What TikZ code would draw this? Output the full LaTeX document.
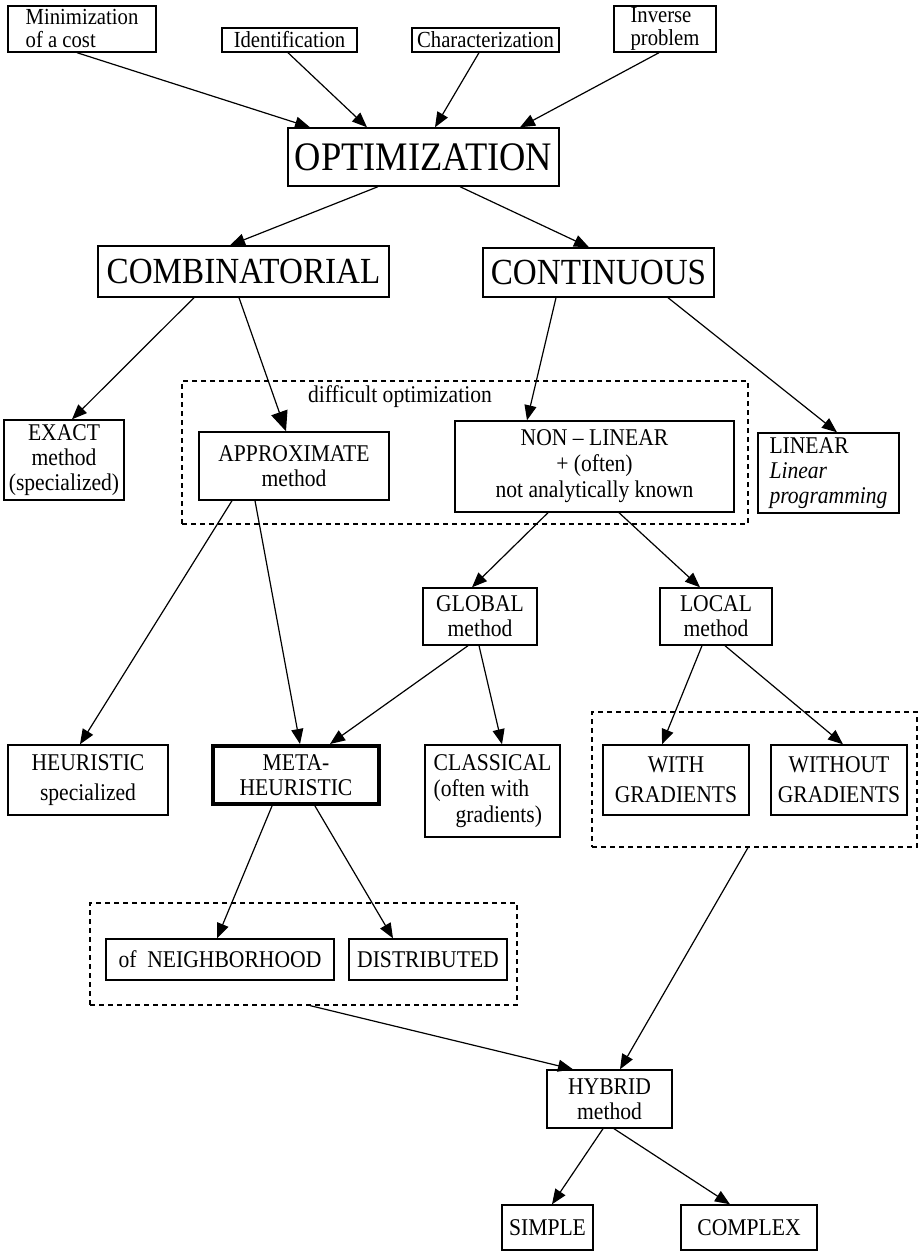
\documentclass[tikz,border=0pt]{standalone}
\usepackage{fontspec}
\setmainfont{Liberation Serif}[FakeStretch=0.9]
\usetikzlibrary{arrows.meta}

\begin{document}
\begin{tikzpicture}[
    x=1pt, y=-1pt,
    >={Triangle[length=15pt, width=12pt]},
    box/.style={draw, line width=1.4pt, inner sep=0pt, align=center, font=\fontsize{24}{25}\selectfont},
    topbox/.style={box, font=\fontsize{23}{23}\selectfont},
    bigbox/.style={box, font=\fontsize{40.5}{40}\selectfont},
    midbox/.style={box, font=\fontsize{36.8}{36}\selectfont},
    groupbox/.style={draw, line width=1.2pt, dash pattern=on 5pt off 4pt, inner sep=0pt},
    link/.style={->, line width=1.2pt}
]

    \useasboundingbox (0,0) rectangle (921,1252);

    % dashed groups
    \node[groupbox, minimum width=566pt, minimum height=143pt] (diffopt) at (465,452.5) {};
    \node[groupbox, minimum width=325pt, minimum height=135pt] (gradgrp) at (754.5,779.5) {};
    \node[groupbox, minimum width=427pt, minimum height=102pt] (metagrp) at (303.5,954) {};
    \node[font=\fontsize{24}{25}\selectfont] (difflabel) at (400,397) {difficult optimization};

    \node[topbox, align=left, minimum width=148pt, minimum height=46pt] (mincost) at (82,29) {Minimization\\of a cost};
    \node[topbox, minimum width=135pt, minimum height=24pt] (ident) at (289.5,40) {Identification};
    \node[topbox, minimum width=147pt, minimum height=24pt] (charac) at (485.5,40) {Characterization};
    \node[topbox, align=left, minimum width=102pt, minimum height=46pt] (inverse) at (665,29) {Inverse\\problem};

    \node[bigbox, minimum width=271pt, minimum height=58pt] (optim) at (423.5,157) {OPTIMIZATION};
    \node[midbox, minimum width=291pt, minimum height=51pt] (combin) at (243.5,271.5) {COMBINATORIAL};
    \node[midbox, minimum width=231pt, minimum height=49pt] (contin) at (598.5,272.5) {CONTINUOUS};

    \node[box, minimum width=120pt, minimum height=80pt] (exact) at (64,460) {EXACT\\method\\(specialized)};
    \node[box, minimum width=190pt, minimum height=68pt] (approx) at (294,466) {APPROXIMATE\\method};
    \node[box, font=\fontsize{24}{26}\selectfont, minimum width=279pt, minimum height=91pt] (nonlin) at (594.5,466.5) {NON \textendash{} LINEAR\\+ (often)\\not analytically known};
    \node[box, align=left, minimum width=141pt, minimum height=80pt] (linear) at (828.5,473) {LINEAR\\\textit{Linear}\\\textit{programming}};

    \node[box, minimum width=114pt, minimum height=57pt] (global) at (480,616.5) {GLOBAL\\method};
    \node[box, minimum width=112pt, minimum height=57pt] (local) at (716,616.5) {LOCAL\\method};

    \node[box, font=\fontsize{24}{30}\selectfont, minimum width=160pt, minimum height=70pt] (heur) at (88,780) {HEURISTIC\\specialized};
    \node[box, line width=4pt, minimum width=166pt, minimum height=58pt] (meta) at (296,775) {META-\\HEURISTIC};
    \node[box, align=left, font=\fontsize{24}{26}\selectfont, minimum width=135pt, minimum height=92pt] (classic) at (492.5,791) {CLASSICAL\\(often with\\\hspace*{22pt}gradients)};
    \node[box, font=\fontsize{24}{30}\selectfont, minimum width=146pt, minimum height=70pt] (withg) at (676,780) {WITH\\GRADIENTS};
    \node[box, font=\fontsize{24}{30}\selectfont, minimum width=136pt, minimum height=70pt] (without) at (839,780) {WITHOUT\\GRADIENTS};

    \node[box, minimum width=228pt, minimum height=41pt] (neigh) at (220,959.5) {of\ \ NEIGHBORHOOD};
    \node[box, minimum width=158pt, minimum height=41pt] (distrib) at (428,959.5) {DISTRIBUTED};

    \node[box, minimum width=125pt, minimum height=58pt] (hybrid) at (609.5,1099) {HYBRID\\method};
    \node[box, minimum width=91pt, minimum height=45pt] (simple) at (547.5,1227.5) {SIMPLE};
    \node[box, minimum width=136pt, minimum height=45pt] (complex) at (749,1227.5) {COMPLEX};

    % connectors
    \draw[link] ([xshift=-5pt]mincost.south) -- ([xshift=-113.5pt]optim.north);
    \draw[link] ([xshift=-1.5pt]ident.south) -- ([xshift=-56.5pt]optim.north);
    \draw[link] ([xshift=-6.5pt]charac.south) -- ([xshift=11.5pt]optim.north);
    \draw[link] ([xshift=-6pt]inverse.south) -- ([xshift=96.5pt]optim.north);

    \draw[link] ([xshift=-45.5pt]optim.south) -- ([xshift=-13.5pt]combin.north);
    \draw[link] ([xshift=36.5pt]optim.south) -- ([xshift=-9.5pt]contin.north);

    \draw[link] ([xshift=-49.5pt]combin.south) -- ([xshift=8pt]exact.north);
    \draw[link, -{Triangle[length=20pt, width=17pt]}] ([xshift=-4.5pt]combin.south) -- ([xshift=-8pt]approx.north);
    \draw[link] ([xshift=-42.5pt]contin.south) -- ([xshift=-67.5pt]nonlin.north);
    \draw[link] ([xshift=69.5pt]contin.south) -- ([xshift=8.5pt]linear.north);

    \draw[link] ([xshift=-62pt]approx.south) -- ([xshift=-8pt]heur.north);
    \draw[link] ([xshift=-39pt]approx.south) -- ([xshift=4pt]meta.north);
    \draw[link] ([xshift=-46.5pt]nonlin.south) -- ([xshift=-8pt]global.north);
    \draw[link] ([xshift=24.5pt]nonlin.south) -- ([xshift=-16pt]local.north);

    \draw[link] ([xshift=-12pt]global.south) -- ([xshift=34pt]meta.north);
    \draw[link] ([xshift=-1pt]global.south) -- ([xshift=9.5pt]classic.north);
    \draw[link] ([xshift=-14pt]local.south) -- ([xshift=-14pt]withg.north);
    \draw[link] ([xshift=9pt]local.south) -- ([xshift=4pt]without.north);

    \draw[link] ([xshift=-24pt]meta.south) -- ([xshift=-3pt]neigh.north);
    \draw[link] ([xshift=19pt]meta.south) -- ([xshift=-35pt]distrib.north);

    \draw[link] ([xshift=6.5pt]metagrp.south) -- ([xshift=-36.5pt]hybrid.north);
    \draw[link] ([xshift=-6.5pt]gradgrp.south) -- ([xshift=10.5pt]hybrid.north);
    \draw[link] ([xshift=-6.5pt]hybrid.south) -- ([xshift=4.5pt]simple.north);
    \draw[link] ([xshift=4.5pt]hybrid.south) -- ([xshift=-19pt]complex.north);

\end{tikzpicture}
\end{document}
